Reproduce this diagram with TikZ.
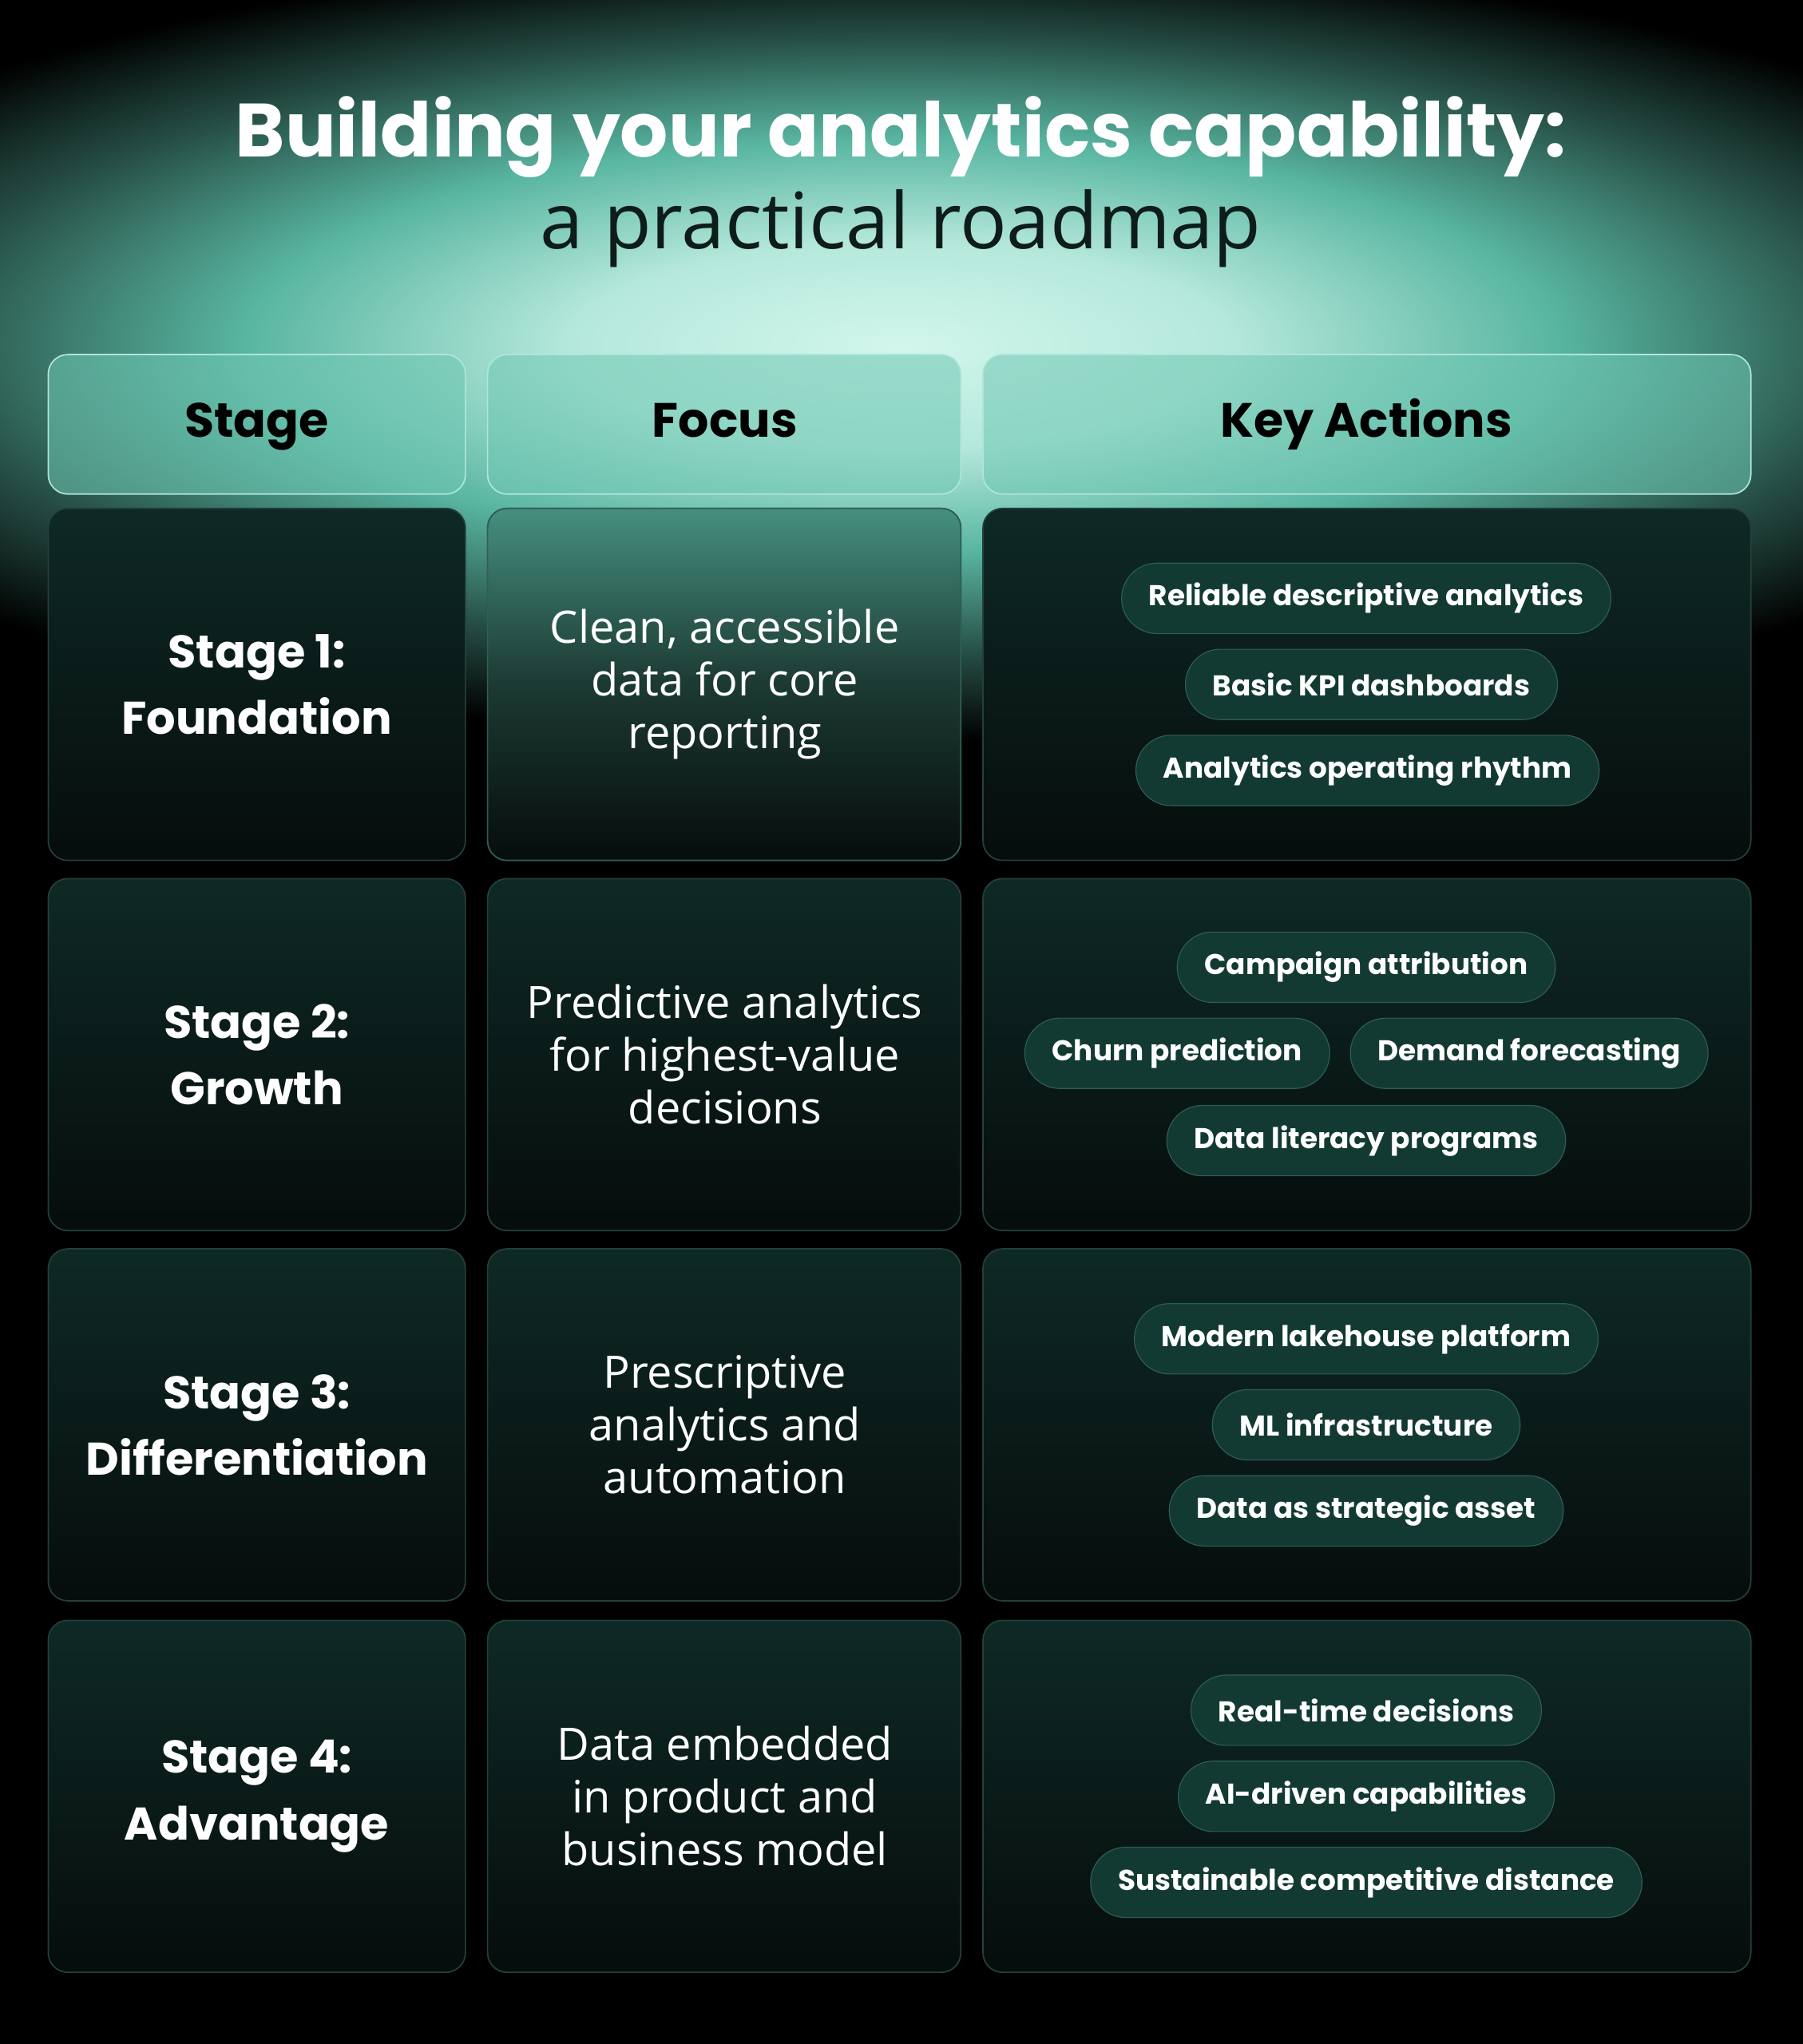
\documentclass[tikz,border=0pt]{standalone}
\usepackage{fontspec}
\setmainfont{Poppins}
\newfontfamily\regfont{Open Sans}
\usetikzlibrary{positioning}
\definecolor{mint}{HTML}{D2F6EC}
\definecolor{teal}{HTML}{5DBFA9}
\definecolor{cellTop}{HTML}{0E2925}
\definecolor{cellBot}{HTML}{060D0C}
\definecolor{cellLine}{HTML}{24403B}
\definecolor{pillFill}{HTML}{123A33}
\definecolor{pillLine}{HTML}{2E5E55}
\pgfdeclareradialshading{glow}{\pgfpoint{0bp}{0bp}}{%
  color(0bp)=(mint); color(6bp)=(mint!75!teal); color(12bp)=(teal!95!black);
  color(18bp)=(teal!40!black); color(23bp)=(black); color(25bp)=(black)}
\tikzset{
  cell/.style={rounded corners=0.3cm, draw=cellLine, line width=0.6pt, top color=cellTop, bottom color=cellBot},
  head/.style={rounded corners=0.3cm, draw=mint!70!teal, line width=0.6pt, fill=teal!85!mint, fill opacity=0.55},
  headtext/.style={font=\bfseries\fontsize{21}{26}\selectfont, text=black, text height=0.5cm, text depth=0.12cm},
  stagetext/.style={font=\bfseries\fontsize{20}{29}\selectfont, text=white, align=center},
  focustext/.style={font=\regfont\fontsize{19.5}{23}\selectfont, text=white, align=center},
  pill/.style={rounded corners=0.54cm, draw=pillLine, fill=pillFill, text=white,
    font=\bfseries\fontsize{12.5}{15}\selectfont, minimum height=1.08cm, inner xsep=0.42cm}
}
\begin{document}
\begin{tikzpicture}[x=0.02cm, y=-0.02cm]
\useasboundingbox (0,0) rectangle (1383,1568);
\fill[black] (0,0) rectangle (1383,1568);
% glow behind the title and header
\begin{scope}
\clip (0,0) rectangle (1383,620);
\shade[shading=glow] (691,265) ellipse (1050 and 330);
\end{scope}

% title
\node[font=\bfseries\fontsize{33}{40}\selectfont, text=white] (title) at (691,105) {Building your analytics capability:};
\node[font=\regfont\fontsize{34}{40}\selectfont, text=black!85!teal] (subtitle) at (691,175) {a practical roadmap};

% header row
\draw[head] (37,272) rectangle (357,379);
\draw[head] (374,272) rectangle (737,379);
\draw[head] (754,272) rectangle (1343,379);
\node[headtext] (hstage) at (197,326) {Stage};
\node[headtext] (hfocus) at (556,326) {Focus};
\node[headtext] (hkey) at (1048,326) {Key Actions};

% body cells
\foreach \t in {390,674,958,1243}{
  \draw[cell] (37,\t) rectangle (357,\t+270);
  \draw[cell] (374,\t) rectangle (737,\t+270);
  \draw[cell] (754,\t) rectangle (1343,\t+270);
}
% first focus cell is lit from above
\shade[rounded corners=0.3cm, top color=teal!75!black, bottom color=cellBot, middle color=teal!30!black, draw=teal!50!black, line width=0.6pt]
  (374,390) rectangle (737,660);
\node[focustext] (f1) at (556,525) {Clean, accessible\\data for core\\reporting};

% stage column
\node[stagetext] (s1) at (197,525) {Stage 1:\\Foundation};
\node[stagetext] (s2) at (197,809) {Stage 2:\\Growth};
\node[stagetext] (s3) at (197,1093) {Stage 3:\\Differentiation};
\node[stagetext] (s4) at (197,1378) {Stage 4:\\Advantage};

% focus column
\node[focustext] (f2) at (556,809) {Predictive analytics\\for highest-value\\decisions};
\node[focustext] (f3) at (556,1093) {Prescriptive\\analytics and\\automation};
\node[focustext] (f4) at (556,1378) {Data embedded\\in product and\\business model};

% key actions
\node[pill] (a11) at (1048,459) {Reliable descriptive analytics};
\node[pill] (a12) at (1052,525) {Basic KPI dashboards};
\node[pill] (a13) at (1049,591) {Analytics operating rhythm};

\node[pill] (a21) at (1048,742) {Campaign attribution};
\node[pill] (a22) at (903,808) {Churn prediction};
\node[pill] (a23) at (1173,808) {Demand forecasting};
\node[pill] (a24) at (1048,875) {Data literacy programs};

\node[pill] (a31) at (1048,1027) {Modern lakehouse platform};
\node[pill] (a32) at (1048,1093) {ML infrastructure};
\node[pill] (a33) at (1048,1159) {Data as strategic asset};

\node[pill] (a41) at (1048,1312) {Real-time decisions};
\node[pill] (a42) at (1048,1378) {AI-driven capabilities};
\node[pill] (a43) at (1048,1444) {Sustainable competitive distance};
\end{tikzpicture}
\end{document}
